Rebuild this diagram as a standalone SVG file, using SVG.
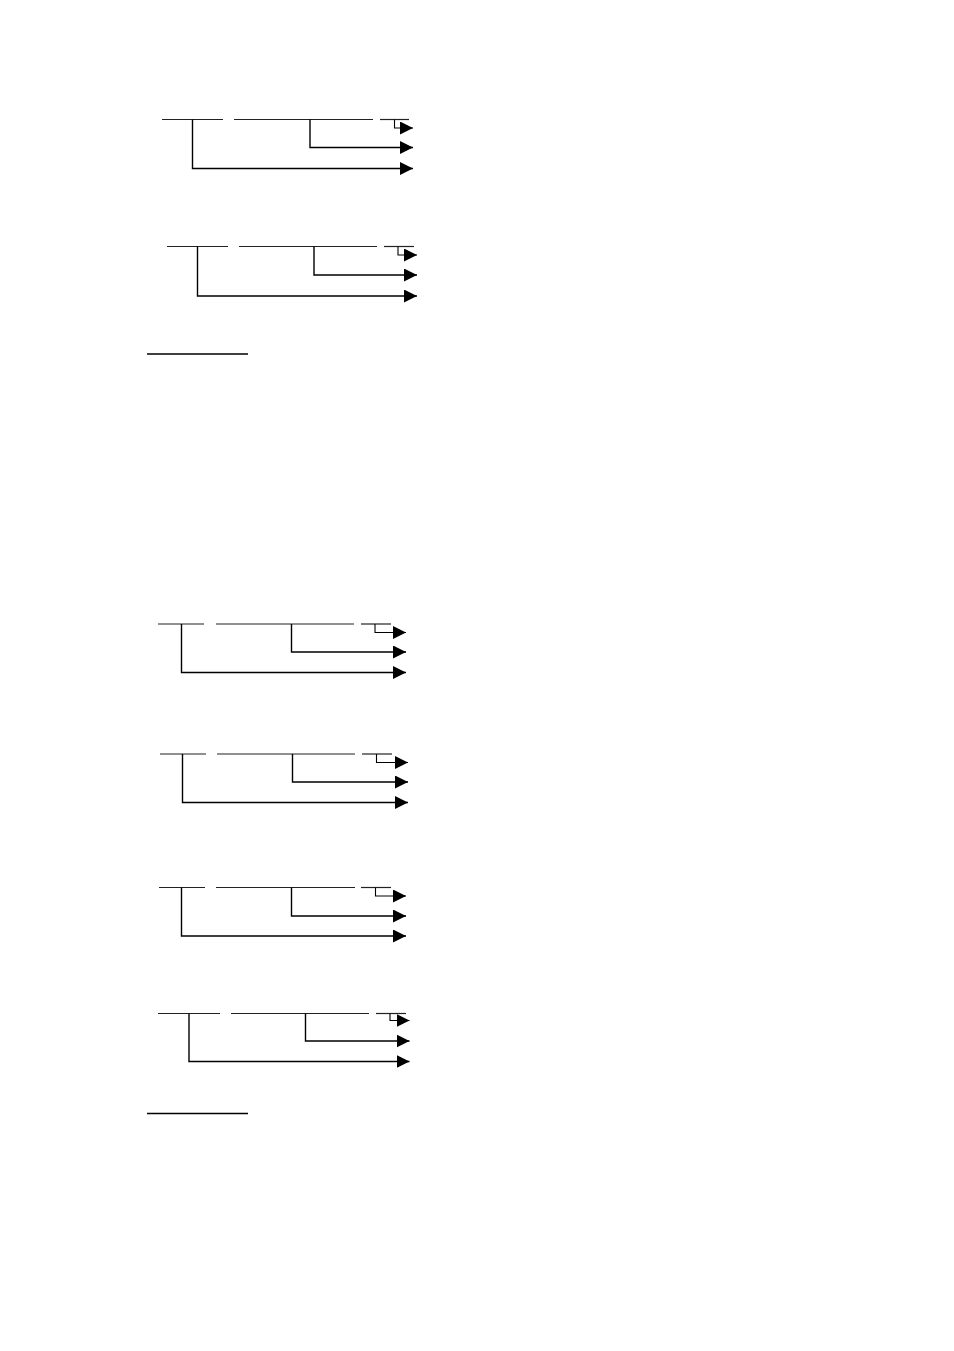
<svg xmlns="http://www.w3.org/2000/svg" width="954" height="1351" viewBox="0 0 954 1351">
<style>
.bar{stroke:#222;stroke-width:1.2;fill:none}
.conn{stroke:#000;stroke-width:1.4;fill:none}
.hook{stroke:#000;stroke-width:1.1;fill:none}
.ul{stroke:#000;stroke-width:1.4}
</style>
<defs>
<marker id="ah" viewBox="0 0 13 13" refX="13" refY="6.5" markerWidth="13" markerHeight="13" markerUnits="userSpaceOnUse" orient="auto">
<path d="M0,0 L13,6.5 L0,13 z" fill="#000"/>
</marker>
</defs>
<rect width="954" height="1351" fill="#fff"/>

<g id="node1">
<line class="bar" x1="162" y1="119.5" x2="223" y2="119.5"/>
<line class="bar" x1="234" y1="119.5" x2="373" y2="119.5"/>
<line class="bar" x1="380" y1="119.5" x2="409" y2="119.5"/>
</g>
<g id="node2">
<line class="bar" x1="167" y1="246.5" x2="228" y2="246.5"/>
<line class="bar" x1="239" y1="246.5" x2="377" y2="246.5"/>
<line class="bar" x1="384" y1="246.5" x2="414" y2="246.5"/>
</g>
<g id="node3">
<line class="bar" x1="158" y1="624" x2="204" y2="624"/>
<line class="bar" x1="216" y1="624" x2="354" y2="624"/>
<line class="bar" x1="361" y1="624" x2="391" y2="624"/>
</g>
<g id="node4">
<line class="bar" x1="160" y1="754" x2="206" y2="754"/>
<line class="bar" x1="217" y1="754" x2="355" y2="754"/>
<line class="bar" x1="362" y1="754" x2="392" y2="754"/>
</g>
<g id="node5">
<line class="bar" x1="159" y1="887.5" x2="205" y2="887.5"/>
<line class="bar" x1="216" y1="887.5" x2="355" y2="887.5"/>
<line class="bar" x1="361" y1="887.5" x2="391" y2="887.5"/>
</g>
<g id="node6">
<line class="bar" x1="158" y1="1013.5" x2="220" y2="1013.5"/>
<line class="bar" x1="231" y1="1013.5" x2="369" y2="1013.5"/>
<line class="bar" x1="376" y1="1013.5" x2="406" y2="1013.5"/>
</g>
<g id="underlines">
<line class="ul" x1="147" y1="354" x2="248" y2="354"/>
<line class="ul" x1="147" y1="1113.5" x2="248" y2="1113.5"/>
</g>

<g id="connectors">
<path class="hook" d="M394.5,119.5 V128 H413" marker-end="url(#ah)"/>
<path class="conn" d="M310,119.5 V147.5 H413" marker-end="url(#ah)"/>
<path class="conn" d="M192.5,119.5 V168.5 H413" marker-end="url(#ah)"/>

<path class="hook" d="M398,246.5 V255 H417" marker-end="url(#ah)"/>
<path class="conn" d="M314,246.5 V275 H417" marker-end="url(#ah)"/>
<path class="conn" d="M197.5,246.5 V296 H417" marker-end="url(#ah)"/>

<path class="hook" d="M375,624 V632.5 H406" marker-end="url(#ah)"/>
<path class="conn" d="M291.5,624 V652 H406" marker-end="url(#ah)"/>
<path class="conn" d="M181.5,624 V672.5 H406" marker-end="url(#ah)"/>

<path class="hook" d="M376.5,754 V762.5 H408" marker-end="url(#ah)"/>
<path class="conn" d="M292.5,754 V782 H408" marker-end="url(#ah)"/>
<path class="conn" d="M182.5,754 V802.5 H408" marker-end="url(#ah)"/>

<path class="hook" d="M375.5,887.5 V896 H406" marker-end="url(#ah)"/>
<path class="conn" d="M291.5,887.5 V916 H406" marker-end="url(#ah)"/>
<path class="conn" d="M181.5,887.5 V936 H406" marker-end="url(#ah)"/>

<path class="hook" d="M390,1013.5 V1020.5 H409.5" marker-end="url(#ah)"/>
<path class="conn" d="M305.5,1013.5 V1041 H409.5" marker-end="url(#ah)"/>
<path class="conn" d="M189,1013.5 V1061.5 H409.5" marker-end="url(#ah)"/>
</g>
</svg>
